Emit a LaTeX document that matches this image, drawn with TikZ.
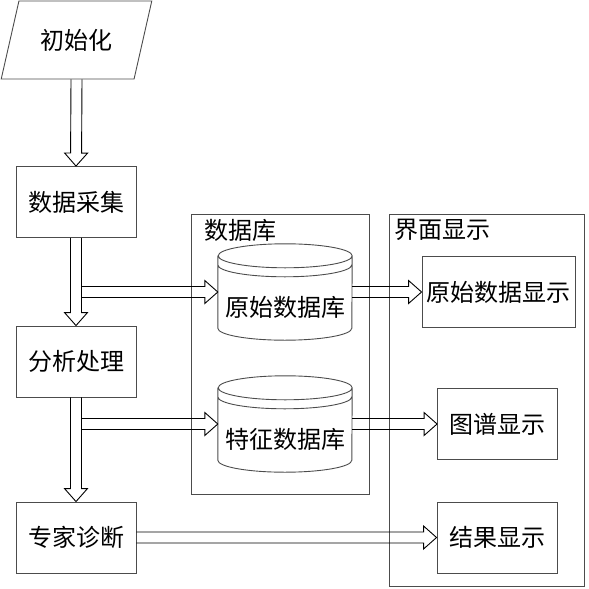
\documentclass[tikz,border=0pt]{standalone}
\usepackage{fontspec}
\newfontfamily\cjk{Noto Sans CJK SC}
\usetikzlibrary{shapes.geometric,calc}

\tikzset{
  box/.style={draw=black!70, line width=0.9pt, minimum width=120pt, minimum height=71pt, inner sep=0pt},
  area/.style={draw=black!70, line width=0.9pt, inner sep=0pt},
  dbcyl/.style={minimum width=134pt, minimum height=96pt, inner sep=0pt, text height=54pt, text depth=6pt},
  cyl/.style={draw=black!70, line width=0.9pt},
  fat/.style={draw=black, line width=0.9pt, to path={
    let \p1=(\tikztostart), \p2=(\tikztotarget),
        \n1={atan2(\y2-\y1,\x2-\x1)}, \n2={veclen(\x2-\x1,\y2-\y1)}
    in {[shift={(\p1)}, rotate=\n1]
      (0pt,5.5pt) -- ({\n2*1pt-13pt},5.5pt) -- ({\n2*1pt-13pt},11.5pt) -- ({\n2*1pt},0pt)
      -- ({\n2*1pt-13pt},-11.5pt) -- ({\n2*1pt-13pt},-5.5pt) -- (0pt,-5.5pt)}
  }},
}

\begin{document}
\begin{tikzpicture}[x=1pt, y=-1pt, font=\cjk\fontsize{24}{28}\selectfont]
\useasboundingbox (0,0) rectangle (589,589);

\node[draw=black!70, line width=0.9pt, trapezium, trapezium left angle=63.4, trapezium right angle=116.6,
  trapezium stretches=true, minimum width=151pt, minimum height=78pt, inner sep=0pt] (init) at (76.5,40) {初始化};
\node[box] (acq) at (76,202) {数据采集};
\node[box] (ana) at (76,361.5) {分析处理};
\node[box] (diag) at (76,537.5) {专家诊断};

\node[area, minimum width=178pt, minimum height=280pt] (dbarea) at (280,354) {};
\node[area, minimum width=195pt, minimum height=372pt] (uiarea) at (486.5,400) {};
\node[anchor=west, inner sep=0pt] (dbtitle) at (204,230) {数据库};
\node[anchor=west, inner sep=0pt] (uititle) at (394,230) {界面显示};

\node[dbcyl] (db1) at (285,292) {原始数据库};
\node[dbcyl] (db2) at (285,424) {特征数据库};
\foreach \c in {db1,db2}
  \draw[cyl] ([yshift=-12pt]\c.north west) -- ([yshift=12pt]\c.south west)
    arc[start angle=180, end angle=360, x radius=67pt, y radius=12pt]
    -- ([yshift=-12pt]\c.north east)
    arc[start angle=0, end angle=360, x radius=67pt, y radius=12pt]
    ([yshift=-21pt]\c.north west) arc[start angle=180, end angle=360, x radius=67pt, y radius=12pt];

\node[box, minimum width=153pt] (rawshow) at (498.5,292) {原始数据显示};
\node[box] (mapshow) at (497.5,424) {图谱显示};
\node[box] (resshow) at (497,537.5) {结果显示};

\coordinate[xshift=5.5pt] (j1) at (acq.south |- db1.west);
\coordinate[xshift=5.5pt] (j2) at (ana.south |- db2.west);

\draw[fat] (init.center |- init.south) to (acq.north);
\draw[fat] (acq.south) to (ana.north);
\draw[fat] (ana.south) to (diag.north);
\draw[fat] (j1) to (db1.west);
\draw[fat] (j2) to (db2.west);
\draw[fat] (db1.east) to (rawshow.west);
\draw[fat] (db2.east) to (mapshow.west);
\draw[fat] (diag.east) to (resshow.west);
\end{tikzpicture}
\end{document}
